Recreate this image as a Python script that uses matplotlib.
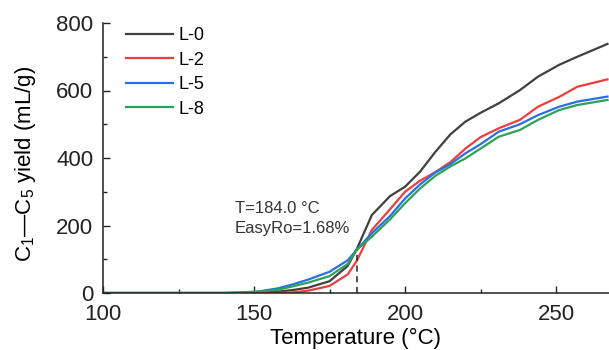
import matplotlib
matplotlib.use("Agg")
import matplotlib.pyplot as plt
from matplotlib.ticker import MultipleLocator

plt.rcParams['font.family'] = ['Liberation Sans', 'DejaVu Sans']
plt.rcParams['mathtext.fontset'] = 'custom'
plt.rcParams['mathtext.rm'] = 'Liberation Sans'
plt.rcParams['mathtext.it'] = 'Liberation Sans:italic'

temperature = [100, 140, 148, 152, 158, 163, 168, 175, 181, 184, 189, 195, 200,
               205, 210, 215, 220, 225, 231, 238, 244, 251, 257, 267]
l0 = [0, 0, 0, 1, 4, 9, 16, 35, 80, 130, 231, 287, 315,
      360, 418, 470, 508, 534, 562, 601, 641, 676, 700, 738]
l2 = [0, 0, 0, 0, 0, 2, 7, 21, 55, 95, 187, 248, 300,
      333, 358, 388, 428, 462, 488, 513, 552, 581, 611, 633]
l5 = [0, 0, 1, 5, 14, 26, 40, 63, 97, 128, 177, 228, 280,
      322, 357, 382, 414, 441, 478, 500, 527, 552, 567, 582]
l8 = [0, 0, 3, 5, 10, 20, 31, 50, 86, 128, 167, 218, 266,
      310, 347, 375, 399, 428, 463, 483, 513, 542, 557, 572]
series_names = ["L-0", "L-2", "L-5", "L-8"]
series_values = [l0, l2, l5, l8]
colors = ["#404040", "#f23c3c", "#2a6fe6", "#2aa358"]

marker_T = 184.0
marker_Y = 128
note_lines = ["T=184.0 \u00b0C", "EasyRo=1.68%"]

fig = plt.figure(figsize=(6.09, 3.5), dpi=100)
ax = fig.add_axes([103/609, 1-293/350, 1-103/609, (293-23)/350])

for name, vals, c in zip(series_names, series_values, colors):
    ax.plot(temperature, vals, color=c, lw=1.6, label=name)

ax.plot([marker_T, marker_T], [0, marker_Y], color="#222222", lw=1.1, ls=(0, (4, 3)))
ax.text(143.6, 249, note_lines[0], fontsize=12, color="#333333", va='center', ha='left')
ax.text(143.6, 190, note_lines[1], fontsize=12, color="#333333", va='center', ha='left')

ax.set_xlim(100, 267.5)
ax.set_ylim(0, 800)
ax.xaxis.set_major_locator(MultipleLocator(50))
ax.xaxis.set_minor_locator(MultipleLocator(25))
ax.yaxis.set_major_locator(MultipleLocator(200))
ax.yaxis.set_minor_locator(MultipleLocator(100))
ax.tick_params(which='both', direction='in', labelsize=16, colors="#222222")
ax.tick_params(which='major', length=5, width=1.0)
ax.tick_params(which='minor', length=3, width=1.0)
ax.tick_params(axis='y', pad=7)
ax.tick_params(axis='x', pad=8)
for s in ['top', 'right']:
    ax.spines[s].set_visible(False)
for s in ['left', 'bottom']:
    ax.spines[s].set_color("#222222")
    ax.spines[s].set_linewidth(1.1)

ax.set_xlabel("Temperature (\u00b0C)", fontsize=16, labelpad=2)
ax.set_ylabel("C$_1$\u2014C$_5$ yield (mL/g)", fontsize=16)
ax.yaxis.set_label_coords(-0.128, 0.48)

leg = ax.legend(loc='upper left', bbox_to_anchor=(23/506, 0.985), frameon=False,
                fontsize=13, handlelength=2.6, handletextpad=0.3,
                labelspacing=0.42, borderpad=0, borderaxespad=0)

fig.savefig("out.png", dpi=100)
